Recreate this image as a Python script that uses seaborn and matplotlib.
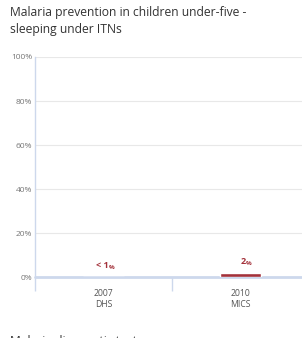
import matplotlib
matplotlib.use("Agg")
import matplotlib.pyplot as plt
import seaborn as sns
import pandas as pd

# donnees du graphique
surveys = ["2007\nDHS", "2010\nMICS"]
itn_pct = [0.1, 2]
value_labels = ["< 1", "2"]

df = pd.DataFrame({"survey": surveys, "pct": itn_pct})

sns.set_style("white")
plt.rcParams["font.family"] = ["Open Sans", "DejaVu Sans"]

bar_red = "#a3313a"
axis_blue = "#cdd8ec"
grid_gray = "#e8e8e8"

fig = plt.figure(figsize=(3.02, 3.38), dpi=100)
ax = fig.add_axes([35 / 302, 1 - 277 / 338, 274 / 302, 220 / 338])

sns.barplot(data=df, x="survey", y="pct", color=bar_red, width=0.3,
            saturation=1, ax=ax, zorder=6)

ax.set_ylim(0, 100)
ax.set_xlim(-0.5, 1.5)
ax.set_yticks([0, 20, 40, 60, 80, 100])
ax.set_yticklabels([f"{v}%" for v in [0, 20, 40, 60, 80, 100]])
ax.tick_params(axis="y", length=0, pad=2, labelsize=6, labelcolor="#777777")
for v in [20, 40, 60, 80, 100]:
    ax.axhline(v, color=grid_gray, lw=0.8, zorder=1)

# ticks de categories (labels) et separateurs
ax.set_xticks([-0.5, 0.5, 1.5])
ax.set_xticklabels(["", "", ""])
ax.tick_params(axis="x", which="major", bottom=True, length=10, width=1,
               color=axis_blue)
ax.set_xticks([0, 1], minor=True)
ax.set_xticklabels(surveys, minor=True)
ax.tick_params(axis="x", which="minor", bottom=True, length=0, pad=9,
               labelsize=6.2, labelcolor="#555555")
ax.set_xlabel("")
ax.set_ylabel("")

for s in ["top", "right", "bottom"]:
    ax.spines[s].set_visible(False)
ax.spines["left"].set_color(axis_blue)
ax.spines["left"].set_linewidth(1)
ax.axhline(0, color=axis_blue, lw=2, zorder=4, clip_on=False)

# etiquettes de valeurs
for i, (v, lab) in enumerate(zip(itn_pct, value_labels)):
    y = max(v, 0) + 3
    ax.text(i + 0.04, y, lab, ha="right", va="bottom", color=bar_red,
            fontsize=6.5, fontweight="bold", zorder=7)
    ax.text(i + 0.04, y, "%", ha="left", va="bottom", color=bar_red,
            fontsize=4.5, fontweight="bold", zorder=7)

fig.text(10 / 302, 1 - 6 / 338, "Malaria prevention in children under-five -\nsleeping under ITNs",
         ha="left", va="top", fontsize=8.7, color="#333333", linespacing=1.35)
fig.text(10 / 302, 1 - 335 / 338, "Malaria diagnostic test",
         ha="left", va="top", fontsize=8.7, color="#333333")

fig.savefig("out.png", dpi=100)
